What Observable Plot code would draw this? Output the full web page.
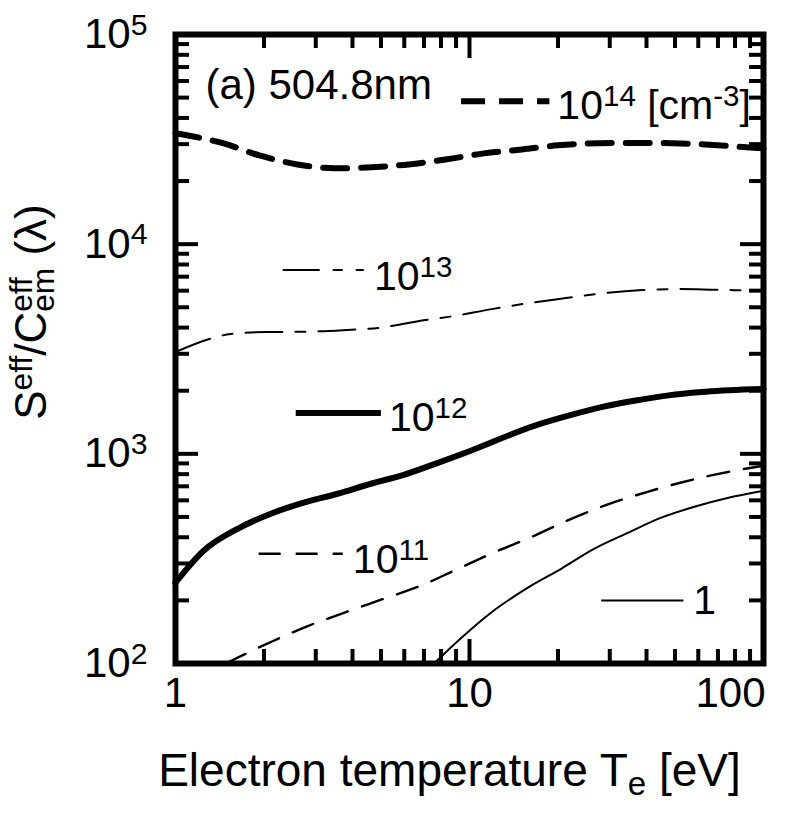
<!DOCTYPE html>
<html>
<head>
<meta charset="utf-8">
<script src="https://cdn.jsdelivr.net/npm/d3@7"></script>
<script src="https://cdn.jsdelivr.net/npm/@observablehq/plot@0.6"></script>
<style>
  html, body { margin: 0; padding: 0; background: #fff; }
</style>
</head>
<body>
<div id="chart"></div>
<script>
// ---- Data (Te in eV, S/C ratio) ----
const te14 = [1, 1.45, 1.93, 2.6, 3.48, 4.65, 6.22, 8.38, 11.2, 15.1, 20.0, 27.4, 36.3, 49.0, 65.5, 87.5, 100];
const s14  = [33800, 30300, 26500, 24000, 23000, 23300, 24000, 25400, 27100, 28300, 29600, 30300, 30400, 30300, 29800, 29000, 28600];

const te13 = [1, 1.34, 1.54, 2.04, 2.67, 3.71, 4.99, 6.62, 8.85, 11.9, 16.0, 21.3, 28.7, 38.7, 51.7, 68.6, 100];
const s13  = [3060, 3570, 3730, 3810, 3820, 3890, 4000, 4280, 4540, 4900, 5240, 5530, 5840, 6040, 6110, 6060, 6000];

const te12 = [1, 1.246, 1.626, 2.11, 2.73, 3.56, 4.62, 5.98, 7.81, 10.1, 16.6, 21.7, 28.1, 36.3, 47.5, 61.5, 91, 100];
const s12  = [243, 345, 439, 518, 585, 645, 720, 794, 906, 1035, 1360, 1520, 1670, 1790, 1900, 1970, 2030, 2040];

const te11 = [1.48, 2.12, 2.79, 3.76, 5.03, 6.83, 9.14, 12.1, 16.3, 22.2, 29.4, 39.3, 52.1, 70.3, 100];
const s11  = [100, 127, 150, 175, 202, 235, 283, 338, 402, 490, 572, 652, 728, 803, 877];

const te1 = [7.57, 9.35, 12.1, 15.8, 20.5, 26.6, 34.7, 44.9, 58.2, 76.0, 100];
const s1  = [100, 132, 179, 230, 283, 353, 421, 496, 559, 617, 667];

// density labels (legend texts)
const seriesNames = ["10^{14} [cm^{-3}]", "10^{13}", "10^{12}", "10^{11}", "1"];

// axis ticks
const xMajor = [1, 10, 100];
const xMinor = [2, 3, 4, 5, 6, 7, 8, 9, 20, 30, 40, 50, 60, 70, 80, 90];
const yMajor = [1e2, 1e3, 1e4, 1e5];
const yMinor = [200, 300, 400, 500, 600, 700, 800, 900,
                2000, 3000, 4000, 5000, 6000, 7000, 8000, 9000,
                20000, 30000, 40000, 50000, 60000, 70000, 80000, 90000];
const yTickLabels = ["10^{2}", "10^{3}", "10^{4}", "10^{5}"];
const xTickLabels = ["1", "10", "100"];

const panelTitle = "(a) 504.8nm";
const xTitle = "Electron temperature T_{e} [eV]";
const yTitle = "S^{eff}/C^{eff}_{em} (λ)";

// ---- styles & annotation placement (in data units) ----
const styles = [
  {strokeWidth: 6,   dash: "24 14"},
  {strokeWidth: 2,   dash: "37 13 10 13"},
  {strokeWidth: 6,   dash: null},
  {strokeWidth: 2.4, dash: "22 15"},
  {strokeWidth: 2,   dash: null}
];
const legendPlace = [
  {x1: 9.36, x2: 18.7, y: 48000, tx: 19.9, ty: 45500},
  {x1: 2.316, x2: 4.37, y: 7520, tx: 4.73, ty: 6960},
  {x1: 2.564, x2: 4.995, y: 1567, tx: 5.32, ty: 1480},
  {x1: 1.918, x2: 3.707, y: 334, tx: 4.01, ty: 313},
  {x1: 28.05, x2: 53.4, y: 200, tx: 57.7, ty: 200}
];

const tes = [te14, te13, te12, te11, te1];
const ss  = [s14, s13, s12, s11, s1];

const FONT = "'Liberation Sans', Arial, Helvetica, sans-serif";
const W = 797, H = 813, ML = 175, MR = 34, MT = 34, MB = 150;
const frameW = W - ML - MR, frameH = H - MT - MB;

const marks = [];

// inward ticks on all four sides (ticks spanning only a short inset of the frame)
for (const [vals, len] of [[xMinor, 14], [xMajor, 24]]) {
  marks.push(Plot.tickX(vals, {x: d => d, insetTop: frameH - len, stroke: "black", strokeWidth: 4}));
  marks.push(Plot.tickX(vals, {x: d => d, insetBottom: frameH - len, stroke: "black", strokeWidth: 4}));
}
for (const [vals, len] of [[yMinor, 14], [yMajor, 23]]) {
  marks.push(Plot.tickY(vals, {y: d => d, insetRight: frameW - len, stroke: "black", strokeWidth: 4}));
  marks.push(Plot.tickY(vals, {y: d => d, insetLeft: frameW - len, stroke: "black", strokeWidth: 4}));
}

// frame
marks.push(Plot.frame({stroke: "black", strokeWidth: 6}));

// curves
tes.forEach((te, i) => {
  const rows = te.map((t, j) => ({te: t, s: ss[i][j]}));
  marks.push(Plot.line(rows, {
    x: "te", y: "s", stroke: "black",
    strokeWidth: styles[i].strokeWidth,
    strokeDasharray: styles[i].dash,
    curve: "monotone-x"
  }));
});
// legend samples + labels
legendPlace.forEach((p, i) => {
  marks.push(Plot.link([p], {
    x1: "x1", x2: "x2", y1: "y", y2: "y", stroke: "black",
    strokeWidth: styles[i].strokeWidth, strokeDasharray: styles[i].dash
  }));
  marks.push(Plot.text([p], {
    x: "tx", y: "ty", text: () => seriesNames[i],
    textAnchor: "start", lineAnchor: "middle", fontSize: 41, fill: "black"
  }));
});
// panel title
marks.push(Plot.text([panelTitle], {
  x: () => 1.265, y: () => 57200, text: d => d,
  textAnchor: "start", lineAnchor: "middle", fontSize: 42, fill: "black"
}));

// tick labels
marks.push(Plot.text(yTickLabels, {
  y: (d, i) => yMajor[i], frameAnchor: "left", text: d => d, dx: -28,
  textAnchor: "end", lineAnchor: "middle", fontSize: 42
}));
marks.push(Plot.text(xTickLabels.slice(0, 2), {
  x: (d, i) => xMajor[i], frameAnchor: "bottom", text: d => d, dy: 14,
  lineAnchor: "top", textAnchor: "middle", fontSize: 42
}));
marks.push(Plot.text(xTickLabels.slice(2), {
  x: () => xMajor[2], frameAnchor: "bottom", text: d => d, dy: 14, dx: 2,
  lineAnchor: "top", textAnchor: "end", fontSize: 42
}));
// axis titles
marks.push(Plot.text([xTitle], {
  frameAnchor: "bottom", text: d => d, dy: 108, dx: -20,
  lineAnchor: "middle", textAnchor: "middle", fontSize: 46
}));
marks.push(Plot.text([yTitle], {
  frameAnchor: "left", text: d => d, dx: -144, dy: -37, rotate: -90,
  lineAnchor: "middle", textAnchor: "middle", fontSize: 44
}));

const chart = Plot.plot({
  width: W,
  height: H,
  marginLeft: ML,
  marginRight: MR,
  marginTop: MT,
  marginBottom: MB,
  x: {type: "log", domain: [1, 100], axis: null},
  y: {type: "log", domain: [100, 1e5], axis: null},
  style: {fontFamily: FONT},
  marks
});
document.getElementById("chart").append(chart);

// super/subscript rendering for "^{...}" and "_{...}"
function richify(root) {
  const NS = "http://www.w3.org/2000/svg";
  root.querySelectorAll("text").forEach(el => {
    const s = el.textContent;
    if (!/[\^_]\{/.test(s)) return;
    const fs = parseFloat(getComputedStyle(el).fontSize);
    const re = /([\^_])\{([^}]*)\}|([^\^_]+)/g;
    const toks = []; let m;
    while ((m = re.exec(s))) toks.push(m[3] != null ? {k: "n", t: m[3]} : {k: m[1], t: m[2]});
    el.textContent = "";
    let cur = 0, prev = null;
    for (const tk of toks) {
      const ts = document.createElementNS(NS, "tspan");
      ts.textContent = tk.t;
      const target = tk.k === "^" ? -0.32 * fs : tk.k === "_" ? 0.18 * fs : 0;
      ts.setAttribute("dy", (target - cur).toFixed(2));
      cur = target;
      if (tk.k !== "n") ts.setAttribute("font-size", (0.72 * fs).toFixed(2));
      el.appendChild(ts);
      if (tk.k === "_" && prev && prev.k === "^") {
        ts.setAttribute("dx", (-prev.node.getComputedTextLength()).toFixed(2));
      }
      prev = {k: tk.k, node: ts};
    }
  });
}
richify(chart);
</script>
</body>
</html>
